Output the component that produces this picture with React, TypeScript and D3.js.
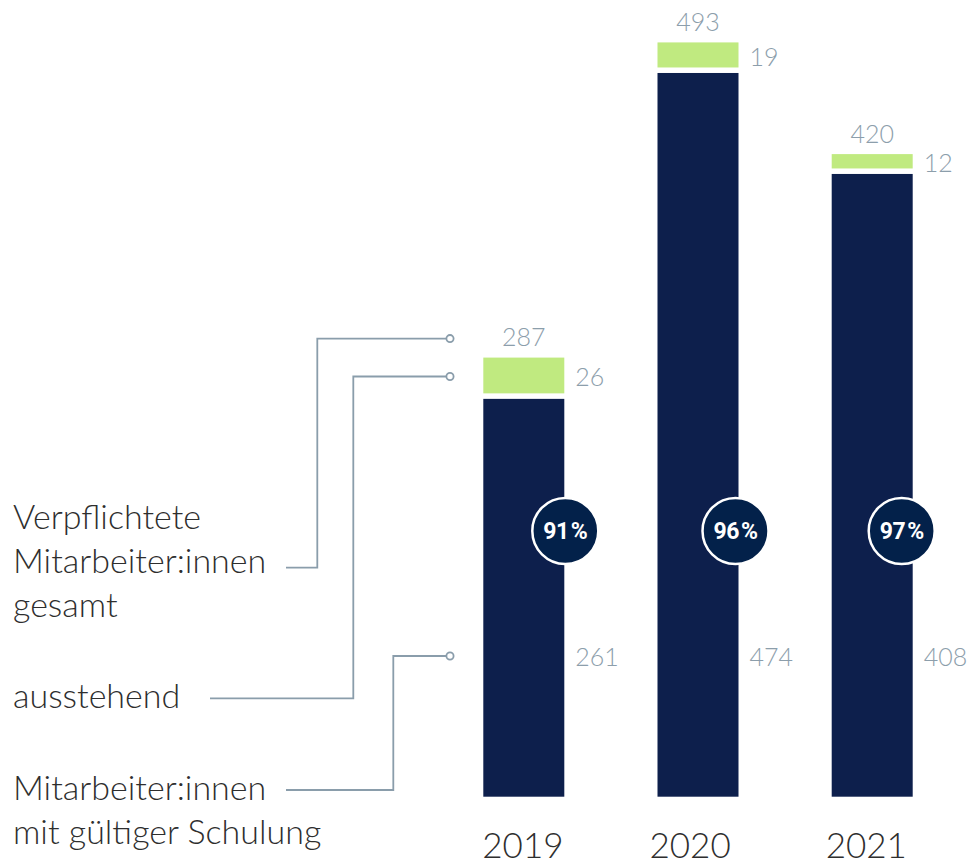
import React from "react";
import * as d3 from "d3";

const years = ["2019", "2020", "2021"];
const trained = [261, 474, 408];
const outstanding = [26, 19, 12];
const totals = [287, 493, 420];
const shares = ["91", "96", "97"];
const legendTotal = ["Verpflichtete", "Mitarbeiter:innen", "gesamt"];
const legendOutstanding = ["ausstehend"];
const legendTrained = ["Mitarbeiter:innen", "mit gültiger Schulung"];

const W = 971;
const H = 865;
const NAVY = "#0d1f4c";
const CIRCLE = "#03214a";
const GREEN = "#c0ea80";
const GREY = "#8c9eab";
const LINE = "#8a9dab";
const TEXT = "#2e2e2e";
const LIGHT = "Lato, Roboto, 'Helvetica Neue', Arial, sans-serif";
const BOLD = "Roboto, 'Helvetica Neue', Arial, sans-serif";

// layout tweaks to follow the reference
const circleDx = [1, -3, -11];
const yearDx = [-1, -8, -6];

export default function App() {
  const x = d3.scaleBand<string>().domain(years).range([483.3, 912.7]).paddingInner(0.535).paddingOuter(0);
  const y = d3.scaleLinear().domain([0, 500]).range([796.7, 31.7]);
  const bw = x.bandwidth();
  const base = y(0);

  const dotX = 450;
  const yTotalLead = y(totals[0]) - 19;
  const yOutLead = (y(totals[0]) + y(trained[0]) - 4) / 2 + 1;
  const yTrainedLead = 656;

  const leader = (pts: [number, number][]) => d3.line()(pts) as string;

  return (
    <svg width={W} height={H} style={{ position: "absolute", left: 0, top: 0, background: "#fff" }} fontFamily={LIGHT}>
      {years.map((yr, i) => {
        const bx = x(yr)!;
        const navyTop = y(trained[i]) + 1.5;
        const greenTop = y(totals[i]);
        const greenBottom = y(trained[i]) - 4;
        const cx = bx + bw + circleDx[i];
        return (
          <g key={yr}>
            <rect x={bx} y={navyTop} width={bw} height={base - navyTop} fill={NAVY} />
            <rect x={bx} y={greenTop} width={bw} height={greenBottom - greenTop} fill={GREEN} />
            <text x={bx + bw / 2} y={greenTop - 11.5} textAnchor="middle" fontSize={25} fontWeight={300} fill={GREY}>
              {totals[i]}
            </text>
            <text x={bx + bw + 11} y={(greenTop + greenBottom) / 2 + 2} dy="0.36em" fontSize={25} fontWeight={300} fill={GREY}>
              {outstanding[i]}
            </text>
            <text x={bx + bw + 11} y={665.5} fontSize={25} fontWeight={300} fill={GREY}>
              {trained[i]}
            </text>
            <circle cx={cx} cy={531} r={33} fill={CIRCLE} stroke="#fff" strokeWidth={2.5} />
            <text x={cx} y={531} dy="0.36em" textAnchor="middle" fontFamily={BOLD} fontSize={23} fontWeight={700} fill="#fff" letterSpacing={-0.5}>
              {shares[i]}
              <tspan dx={2}>%</tspan>
            </text>
            <text x={bx + yearDx[i]} y={858} fontSize={35} fontWeight={300} fill={TEXT}>
              {yr}
            </text>
          </g>
        );
      })}

      <g fill="none" stroke={LINE} strokeWidth={1.8}>
        <path d={leader([[286, 567.7], [317.3, 567.7], [317.3, yTotalLead], [dotX - 4, yTotalLead]])} />
        <path d={leader([[210, 698.3], [353.3, 698.3], [353.3, yOutLead], [dotX - 4, yOutLead]])} />
        <path d={leader([[286, 790], [393.3, 790], [393.3, yTrainedLead], [dotX - 4, yTrainedLead]])} />
        {[yTotalLead, yOutLead, yTrainedLead].map((yy, k) => (
          <circle key={k} cx={dotX} cy={yy} r={3.6} fill="#fff" />
        ))}
      </g>

      <g fontSize={34} fontWeight={300} fill={TEXT}>
        {legendTotal.map((t, k) => (
          <text key={"a" + k} x={13} y={528.5 + k * 44.2}>{t}</text>
        ))}
        {legendOutstanding.map((t, k) => (
          <text key={"b" + k} x={13} y={708}>{t}</text>
        ))}
        {legendTrained.map((t, k) => (
          <text key={"c" + k} x={13} y={800 + k * 43.5}>{t}</text>
        ))}
      </g>
    </svg>
  );
}
